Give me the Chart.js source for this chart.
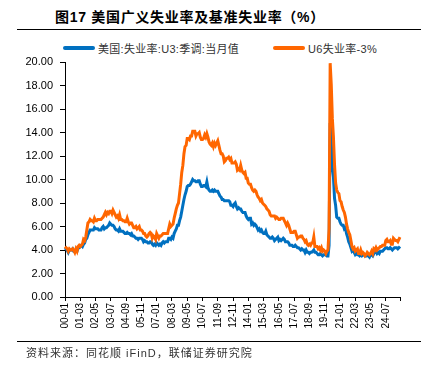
<!DOCTYPE html>
<html>
<head>
<meta charset="utf-8">
<script src="https://cdn.jsdelivr.net/npm/chart.js@4.4.1/dist/chart.umd.min.js"></script>
<style>
  body { margin: 0; width: 428px; height: 368px; background: #fff; position: relative; overflow: hidden; font-family: "Liberation Sans", "Noto Sans CJK SC", sans-serif; }
  #title { position: absolute; left: 55px; top: 6px; font-weight: bold; font-size: 14px; letter-spacing: 0.7px; color: #000; white-space: nowrap; }
  .rule { position: absolute; left: 17px; width: 404px; height: 1px; background: #000; }
  .swatch { position: absolute; width: 32px; height: 4px; border-radius: 2px; }
  .legtext { position: absolute; font-size: 11px; color: #333; white-space: nowrap; letter-spacing: 0.3px; }
  #source { position: absolute; left: 26px; top: 344px; font-size: 11px; color: #333; white-space: nowrap; letter-spacing: 1px; }
  #box { position: absolute; left: 0; top: 0; width: 428px; height: 368px; }
</style>
</head>
<body>
<div id="title">图17 美国广义失业率及基准失业率（%）</div>
<div class="rule" style="top:29px"></div>
<div class="swatch" style="left:63px;top:46px;background:#0070C0"></div>
<div class="legtext" style="left:98px;top:40px">美国:失业率:U3:季调:当月值</div>
<div class="swatch" style="left:273px;top:46px;background:#FF6600"></div>
<div class="legtext" style="left:308px;top:40px">U6失业率-3%</div>
<div id="box"><canvas id="chart" width="428" height="368"></canvas></div>
<div class="rule" style="top:341px"></div>
<div id="source">资料来源：同花顺 iFinD，联储证券研究院</div>

<script>
const startYear = 2000;

// U3 unemployment rate, seasonally adjusted, monthly from 2000-01
const u3 = [
  4.0,4.1,4.0,3.8,4.0,4.0,4.0,4.1,3.9,3.9,3.9,3.9,
  4.2,4.2,4.3,4.4,4.3,4.5,4.6,4.9,5.0,5.3,5.5,5.7,
  5.7,5.7,5.7,5.9,5.8,5.8,5.8,5.7,5.7,5.7,5.9,6.0,
  5.8,5.9,5.9,6.0,6.1,6.3,6.2,6.1,6.1,6.0,5.8,5.7,
  5.7,5.6,5.8,5.6,5.6,5.6,5.5,5.4,5.4,5.5,5.4,5.4,
  5.3,5.4,5.2,5.2,5.1,5.0,5.0,4.9,5.0,5.0,5.0,4.9,
  4.7,4.8,4.7,4.7,4.6,4.6,4.7,4.7,4.5,4.4,4.5,4.4,
  4.6,4.5,4.4,4.5,4.4,4.6,4.7,4.6,4.7,4.7,4.7,5.0,
  5.0,4.9,5.1,5.0,5.4,5.6,5.8,6.1,6.1,6.5,6.8,7.3,
  7.8,8.3,8.7,9.0,9.4,9.5,9.5,9.6,9.8,10.0,9.9,9.9,
  9.8,9.8,9.9,9.9,9.6,9.4,9.4,9.5,9.5,9.4,9.8,9.3,
  9.1,9.0,9.0,9.1,9.0,9.1,9.0,9.0,9.0,8.8,8.6,8.5,
  8.3,8.3,8.2,8.2,8.2,8.2,8.2,8.1,7.8,7.8,7.7,7.9,
  8.0,7.7,7.5,7.6,7.5,7.5,7.3,7.2,7.2,7.2,6.9,6.7,
  6.6,6.7,6.7,6.2,6.3,6.1,6.2,6.1,5.9,5.7,5.8,5.6,
  5.7,5.5,5.4,5.4,5.6,5.3,5.2,5.1,5.0,5.0,5.1,5.0,
  4.8,4.9,5.0,5.1,4.8,4.9,4.8,4.9,5.0,4.9,4.7,4.7,
  4.7,4.6,4.4,4.4,4.4,4.3,4.3,4.4,4.3,4.2,4.2,4.1,
  4.0,4.1,4.0,4.0,3.8,4.0,3.8,3.8,3.7,3.8,3.8,3.9,
  4.0,3.8,3.8,3.7,3.6,3.6,3.7,3.6,3.5,3.6,3.6,3.6,
  3.5,3.5,4.4,14.8,13.2,11.0,10.2,8.4,7.8,6.8,6.7,6.7,
  6.4,6.2,6.1,6.1,5.8,5.9,5.4,5.1,4.7,4.5,4.2,3.9,
  4.0,3.8,3.6,3.7,3.6,3.6,3.5,3.6,3.5,3.6,3.6,3.5,
  3.5,3.6,3.5,3.4,3.6,3.6,3.5,3.7,3.8,3.9,3.7,3.8,
  3.7,3.9,3.9,3.9,4.0,4.1,4.2,4.2,4.1,4.1,4.2,4.1,
  4.0,4.1,4.2,4.2,4.2,4.1,4.2,4.3
];

// U6 minus 3 percentage points, monthly from 2000-01
const u6minus3 = [
  4.1,4.2,4.1,3.9,4.1,4.0,4.0,4.1,4.0,3.8,4.1,3.9,
  4.3,4.4,4.3,4.4,4.5,4.9,4.8,5.1,5.7,6.3,6.4,6.6,
  6.5,6.5,6.4,6.7,6.5,6.5,6.6,6.6,6.6,6.6,6.7,6.8,
  7.0,7.2,7.0,7.2,7.1,7.3,7.3,7.1,7.4,7.2,7.0,6.8,
  6.9,6.7,7.0,6.6,6.6,6.5,6.5,6.4,6.4,6.7,6.4,6.2,
  6.3,6.3,6.1,5.9,5.9,6.0,5.8,5.9,6.0,5.7,5.7,5.6,
  5.4,5.4,5.2,5.1,5.2,5.4,5.5,5.4,5.0,5.2,5.1,4.9,
  5.4,5.2,5.0,5.2,5.2,5.3,5.4,5.4,5.4,5.4,5.4,5.8,
  6.2,6.0,6.1,6.2,6.7,7.1,7.5,7.8,8.0,8.8,9.6,10.6,
  11.2,12.2,12.8,12.9,13.5,13.5,13.4,13.7,13.7,14.1,14.1,14.1,
  13.7,13.9,13.9,14.0,13.6,13.4,13.4,13.5,13.8,13.6,13.9,13.6,
  13.2,13.0,12.9,13.1,12.8,13.1,12.9,13.1,13.3,12.9,12.5,12.2,
  12.2,12.0,11.5,11.6,11.8,11.8,11.9,11.7,11.8,11.4,11.4,11.4,
  11.5,11.3,10.8,10.9,10.8,11.2,10.8,10.6,10.5,10.6,10.1,10.1,
  9.7,9.6,9.6,9.3,9.1,9.0,9.1,9.0,8.7,8.5,8.4,8.2,
  8.3,8.0,7.9,7.8,7.7,7.5,7.4,7.3,7.0,6.9,6.9,6.9,
  6.9,6.7,6.8,6.7,6.6,6.6,6.7,6.7,6.7,6.5,6.3,6.1,
  6.3,6.1,5.8,5.5,5.5,5.5,5.6,5.6,5.3,5.0,5.1,5.1,
  5.2,5.2,5.0,4.9,4.7,4.8,4.5,4.4,4.5,4.4,4.6,4.6,
  5.1,4.3,4.3,4.3,4.1,4.2,4.0,4.2,3.9,4.0,3.9,3.7,
  3.9,4.0,5.8,19.9,18.1,15.2,13.6,11.3,9.7,9.1,8.9,8.8,
  8.2,8.1,7.7,7.4,7.2,6.8,6.2,5.8,5.5,5.3,4.8,4.3,
  4.1,4.2,3.9,4.0,4.1,3.7,3.7,4.0,3.7,3.8,3.7,3.5,
  3.6,3.8,3.7,3.6,3.7,3.9,3.7,4.1,4.0,4.2,4.0,4.1,
  4.2,4.3,4.3,4.4,4.4,4.4,4.8,4.9,4.7,4.7,4.8,4.5,
  4.5,5.0,4.9,4.8,4.8,4.7,4.9,5.1
];

const yTicks = [0, 2, 4, 6, 8, 10, 12, 14, 16, 18, 20];
const labelStep = 14;

const months = [];
for (let i = 0; i < u3.length; i++) {
  const y = startYear + Math.floor(i / 12);
  const m = (i % 12) + 1;
  months.push(String(y % 100).padStart(2, "0") + "-" + String(m).padStart(2, "0"));
}

const ctx = document.getElementById("chart");

new Chart(ctx, {
  type: "line",
  data: {
    labels: months,
    datasets: [
      {
        label: "美国:失业率:U3:季调:当月值",
        data: u3,
        borderColor: "#0070C0",
        borderWidth: 3,
        pointRadius: 0,
        order: 2
      },
      {
        label: "U6失业率-3%",
        data: u6minus3,
        borderColor: "#FF6600",
        borderWidth: 3,
        pointRadius: 0,
        order: 1
      }
    ]
  },
  options: {
    responsive: false,
    animation: false,
    layout: { padding: { top: 62, right: 28, left: 0, bottom: 0 } },
    plugins: {
      legend: { display: false },
      tooltip: { enabled: false }
    },
    scales: {
      x: {
        offset: false,
        border: { color: "#000", width: 1 },
        grid: { drawOnChartArea: false, drawTicks: true, tickLength: 4, color: "#000" },
        afterBuildTicks: (axis) => {
          const last = months.length - 1;
          axis.ticks = axis.ticks.filter(t => t.value % labelStep === 0 || t.value === last);
        },
        afterFit: (scale) => { scale.height = 71; },
        ticks: {
          autoSkip: false,
          maxRotation: 90,
          minRotation: 90,
          padding: 2,
          color: "#000",
          font: { family: "Liberation Sans", size: 10 },
          callback: function (value) {
            return value % labelStep === 0 ? this.getLabelForValue(value) : "";
          }
        }
      },
      y: {
        min: 0,
        max: 20,
        border: { color: "#000", width: 1 },
        grid: { drawOnChartArea: false, drawTicks: true, tickLength: 5, color: "#000" },
        afterBuildTicks: (axis) => { axis.ticks = yTicks.map(v => ({ value: v })); },
        afterFit: (scale) => { scale.width = 65; },
        ticks: {
          padding: 7,
          color: "#000",
          font: { family: "Liberation Sans", size: 11 },
          callback: (v) => Number(v).toFixed(2)
        }
      }
    }
  }
});
</script>
</body>
</html>
